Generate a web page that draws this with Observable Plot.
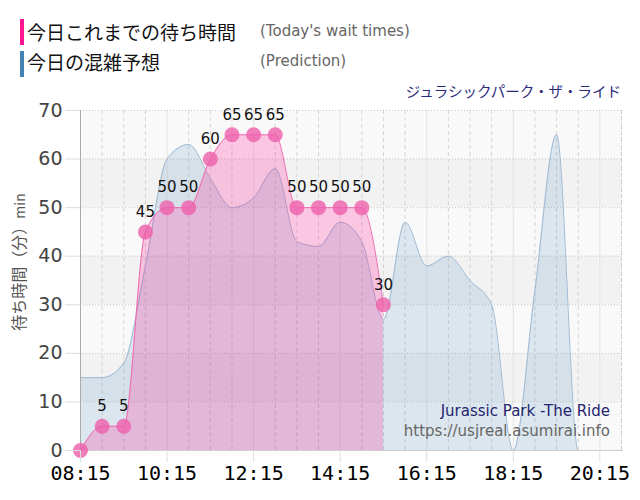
<!DOCTYPE html>
<html><head><meta charset="utf-8">
<script src="https://cdn.jsdelivr.net/npm/d3@7"></script>
<script src="https://cdn.jsdelivr.net/npm/@observablehq/plot@0.6"></script>
<style>
body{margin:0;background:#fff;}
#wrap{position:relative;width:640px;height:500px;overflow:hidden;font-family:"Noto Sans CJK JP",sans-serif;}
.abs{position:absolute;white-space:nowrap;line-height:1;}
#chart{position:absolute;left:0;top:80px;}
</style></head><body>
<div id="wrap">
  <div id="chart"></div>
  <div class="abs" style="left:20px;top:19px;width:4px;height:26px;background:#ff1493"></div>
  <div class="abs" style="left:27px;top:22px;font-size:19px;color:#111">今日これまでの待ち時間</div>
  <div class="abs" style="left:260px;top:24px;font-size:15px;color:#666;font-family:'DejaVu Sans',sans-serif">(Today's wait times)</div>
  <div class="abs" style="left:20px;top:51px;width:4px;height:26px;background:#4682b4"></div>
  <div class="abs" style="left:27px;top:52px;font-size:19px;color:#111">今日の混雑予想</div>
  <div class="abs" style="left:260px;top:54px;font-size:15px;color:#666;font-family:'DejaVu Sans',sans-serif">(Prediction)</div>
  <div class="abs" style="right:19px;top:84px;font-size:14.5px;color:#2a2a7a">ジュラシックパーク・ザ・ライド</div>
  <div class="abs" style="right:30px;top:404px;font-size:15px;color:#24246e;font-family:'DejaVu Sans',sans-serif">Jurassic Park -The Ride</div>
  <div class="abs" style="right:30px;top:424px;font-size:15px;color:#666;font-family:'DejaVu Sans',sans-serif">https://usjreal.asumirai.info</div>
  <div class="abs" style="left:18px;top:262px;font-size:16px;color:#555;transform:translate(-50%,-50%) rotate(-90deg);">待ち時間（分）<span style="font-size:14px">min</span></div>
</div>
<script>
// ---- data ----
const actualTimes = ["08:15","08:45","09:15","09:45","10:15","10:45","11:15","11:45","12:15","12:45","13:15","13:45","14:15","14:45","15:15"];
const actualWait  = [0,5,5,45,50,50,60,65,65,65,50,50,50,50,30];

const predTimes = ["08:15","08:45","09:15","09:45","10:15","10:45","11:15","11:45","12:15","12:45","13:15","13:45","14:15","14:45","15:15","15:45","16:15","16:45","17:15","17:45","18:15","18:45","19:15","19:45","20:15","20:45"];
const predWait  = [15,15,18,38,60,63,56,50,52,58,43,42,47,43,27,47,38,40,35,30,0,33,65,0,0,0];

const xTickLabels = ["08:15","10:15","12:15","14:15","16:15","18:15","20:15"];
const yTicks = [0,10,20,30,40,50,60,70];
const xRange = ["08:15","20:45"];

// ---- build ----
const parse = d3.utcParse("%H:%M");
const actual = actualTimes.map((t,i)=>({time:parse(t), wait:actualWait[i]}));
const pred = predTimes.map((t,i)=>({time:parse(t), wait:predWait[i]}));
const majorTicks = xTickLabels.map(parse);
const minorTimes = predTimes.filter(t=>!xTickLabels.includes(t)).map(parse);
const xDomain = xRange.map(parse);
const bands = yTicks.slice(0,-1).filter((d,i)=>i%2===1).map(d=>({y1:d,y2:d+10}));

const chart = Plot.plot({
  width:640, height:420,
  marginLeft:80, marginRight:19, marginTop:30, marginBottom:50,
  style:{background:"transparent", overflow:"visible"},
  x:{type:"utc", domain:xDomain},
  y:{domain:[0,70]},
  marks:[
    Plot.frame({fill:"#f9f9f9", stroke:null}),
    Plot.rectY(bands, {x1:()=>xDomain[0], x2:()=>xDomain[1], y1:"y1", y2:"y2", fill:"#f2f2f2"}),
    Plot.ruleX(minorTimes, {stroke:"#d4d4d4", strokeDasharray:"4,3"}),
    Plot.ruleX(majorTicks, {stroke:"#e4e4e4"}),
    Plot.ruleY(yTicks, {stroke:"#c8c8c8", strokeDasharray:"1,2"}),
    Plot.ruleX([xDomain[1]], {stroke:"#c8c8c8", strokeDasharray:"1,2"}),
    Plot.areaY(pred, {x:"time", y:"wait", curve:"monotone-x", fill:"#4682b4", fillOpacity:0.16}),
    Plot.lineY(pred, {x:"time", y:"wait", curve:"monotone-x", stroke:"#9fbad3", strokeWidth:1}),
    Plot.areaY(actual, {x:"time", y:"wait", curve:"monotone-x", fill:"#ff1493", fillOpacity:0.22}),
    Plot.lineY(actual, {x:"time", y:"wait", curve:"monotone-x", stroke:"#f06ab0", strokeWidth:1}),
    Plot.ruleY([0], {stroke:"#cccccc"}),
    Plot.ruleX([xDomain[0]], {stroke:"#aaaaaa"}),
    Plot.dot(actual, {x:"time", y:"wait", r:7.5, fill:"#ee5fab", fillOpacity:0.8, stroke:null}),
    Plot.text(actual.slice(1), {x:"time", y:"wait", text:"wait", dy:-20, fontSize:15, fill:"#111", fontFamily:"DejaVu Sans"}),
    Plot.axisX({ticks:majorTicks, tickFormat:d3.utcFormat("%H:%M"), tickSize:12, tickPadding:3, stroke:"#dddddd", fill:"#000", fontSize:20, fontFamily:"DejaVu Sans Mono", label:null}),
    Plot.axisY({ticks:yTicks, tickSize:15, tickPadding:3, stroke:"#dddddd", fill:"#444", fontSize:19, fontFamily:"DejaVu Sans", label:null})
  ]
});
document.getElementById("chart").appendChild(chart);
</script>
</body></html>
